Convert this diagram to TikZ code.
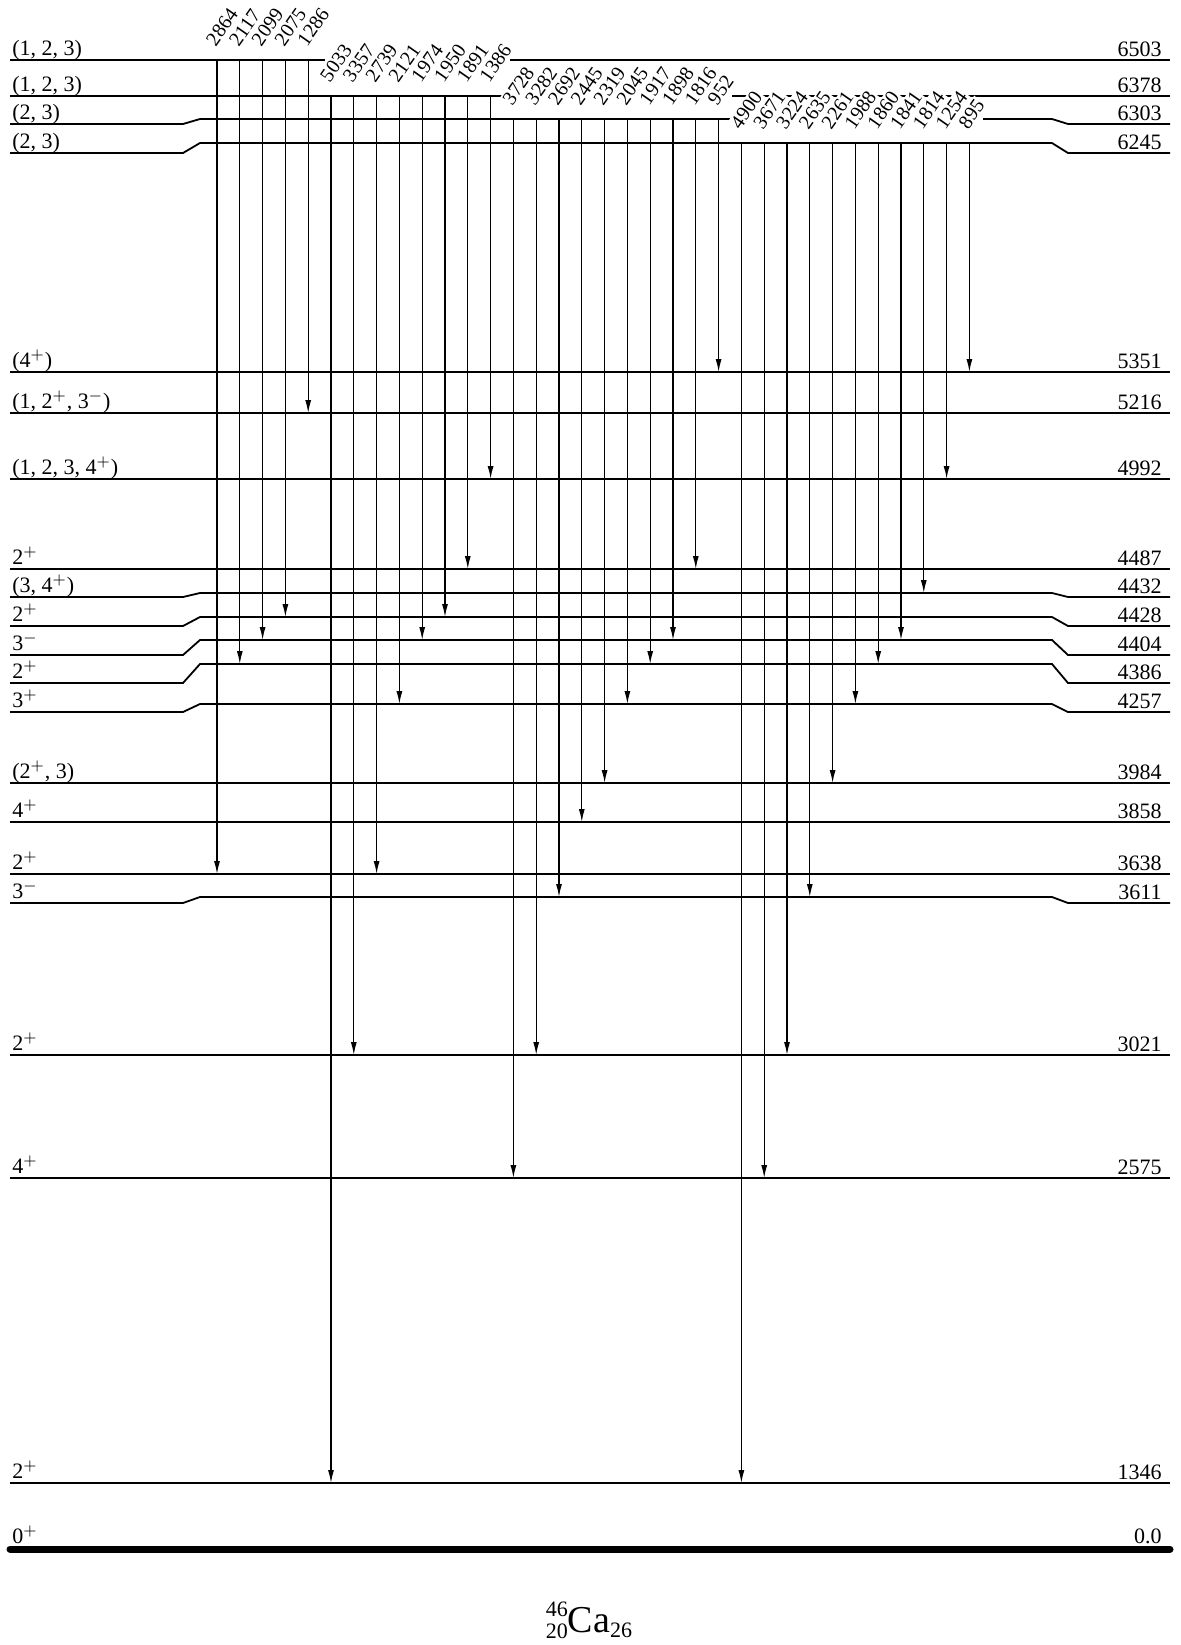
\documentclass[tikz,border=0pt]{standalone}
\usepackage{fontspec}
\setmainfont{Liberation Serif}
\usetikzlibrary{arrows.meta,calc}
\begin{document}
\begin{tikzpicture}[x=0.5pt,y=-0.5pt,
  lvl/.style={line width=0.9pt},
  gnd/.style={line width=3.5pt,line cap=round},
  tr/.style={line width=0.65pt,-{Latex[length=6.5pt,width=3pt]}},
  spin/.style={anchor=base west,inner sep=0pt,font=\fontsize{11}{13}\selectfont},
  en/.style={anchor=base east,inner sep=0pt,font=\fontsize{11}{13}\selectfont},
  tl/.style={rotate=55,anchor=south west,inner sep=0.8pt,fill=white,font=\fontsize{10}{10}\selectfont}]
\useasboundingbox (0,0) rectangle (1180,1645);

% ---- straight levels
\foreach \E/\y/\s in {5351/372/{(4$^+$)}, 5216/413/{(1, 2$^+$, 3$^-$)}, 4992/479/{(1, 2, 3, 4$^+$)},
  4487/569/{2$^+$}, 3984/783/{(2$^+$, 3)}, 3858/822/{4$^+$}, 3638/874/{2$^+$},
  3021/1055/{2$^+$}, 2575/1178/{4$^+$}, 1346/1483/{2$^+$}}{
  \coordinate (L\E) at (0,\y);
  \draw[lvl] (10,\y) -- (1170,\y);
  \node[spin] (s\E) at (12,\y-5) {\s};
  \node[en] (e\E) at (1162,\y-3.5) {\E};
}
% ---- kinked levels
\foreach \E/\ym/\ye/\s in {6245/143/153/{(2, 3)}, 4432/593/597/{(3, 4$^+$)}, 4428/617/626/{2$^+$},
  4404/640/655/{3$^-$}, 4386/664/683/{2$^+$}, 4257/704/712/{3$^+$}, 3611/897/903/{3$^-$}}{
  \coordinate (L\E) at (0,\ym);
  \draw[lvl] (10,\ye) -- (183,\ye) -- (200,\ym) -- (1052,\ym) -- (1068,\ye) -- (1170,\ye);
  \node[spin] (s\E) at (12,\ye-5) {\s};
  \node[en] (e\E) at (1162,\ye-3.5) {\E};
}
% ---- top levels with gaps behind the labels
\coordinate (L6503) at (0,60);
\draw[lvl] (10,60) -- (325,60);
\draw[lvl] (510,60) -- (1170,60);
\node[spin] (s6503) at (12,55) {(1, 2, 3)};
\node[en] (e6503) at (1162,56.5) {6503};
\coordinate (L6378) at (0,96);
\draw[lvl] (10,96) -- (502,96);
\draw[lvl] (732,96) -- (1170,96);
\node[spin] (s6378) at (12,91) {(1, 2, 3)};
\node[en] (e6378) at (1162,92.5) {6378};
\coordinate (L6303) at (0,119);
\draw[lvl] (10,124) -- (183,124) -- (200,119) -- (730,119);
\draw[lvl] (983,119) -- (1052,119) -- (1068,124) -- (1170,124);
\node[spin] (s6303) at (12,119) {(2, 3)};
\node[en] (e6303) at (1162,120.5) {6303};
% ---- ground state
\coordinate (L0) at (0,1549);
\draw[gnd] (10,1549) -- (1170,1549);
\node[spin] (s0) at (12,1543) {0$^+$};
\node[en] (e0) at (1162,1543) {0.0};

% ---- transitions
\def\translist{0/6503/3638/2864, 1/6503/4386/2117, 2/6503/4404/2099, 3/6503/4428/2075, 4/6503/5216/1286,
  5/6378/1346/5033, 6/6378/3021/3357, 7/6378/3638/2739, 8/6378/4257/2121, 9/6378/4404/1974,
  10/6378/4428/1950, 11/6378/4487/1891, 12/6378/4992/1386,
  13/6303/2575/3728, 14/6303/3021/3282, 15/6303/3611/2692, 16/6303/3858/2445, 17/6303/3984/2319,
  18/6303/4257/2045, 19/6303/4386/1917, 20/6303/4404/1898, 21/6303/4487/1816, 22/6303/5351/952,
  23/6245/1346/4900, 24/6245/2575/3671, 25/6245/3021/3224, 26/6245/3611/2635, 27/6245/3984/2261,
  28/6245/4257/1988, 29/6245/4386/1860, 30/6245/4404/1841, 31/6245/4432/1814, 32/6245/4992/1254,
  33/6245/5351/895}
\foreach \i/\a/\b/\t in \translist {
  \pgfmathsetmacro\xx{217+22.8*\i}
  \node[tl] (t\t) at ($(L\a)+(\xx-0.5,-10)$) {\t};
}
\foreach \i/\a/\b/\t in \translist {
  \pgfmathsetmacro\xx{217+22.8*\i}
  \draw[tr] ($(L\a)+(\xx,0)$) -- ($(L\b)+(\xx,0)$);
}

% ---- nucleus label
\node[anchor=base,inner sep=0pt] (title) at (589,1632)
  {{\fontsize{11}{11}\selectfont\rlap{\raisebox{8pt}{46}}\raisebox{-3pt}{20}}{\fontsize{19}{19}\selectfont Ca}{\fontsize{11}{11}\selectfont\raisebox{-2.5pt}{26}}};
\end{tikzpicture}
\end{document}
